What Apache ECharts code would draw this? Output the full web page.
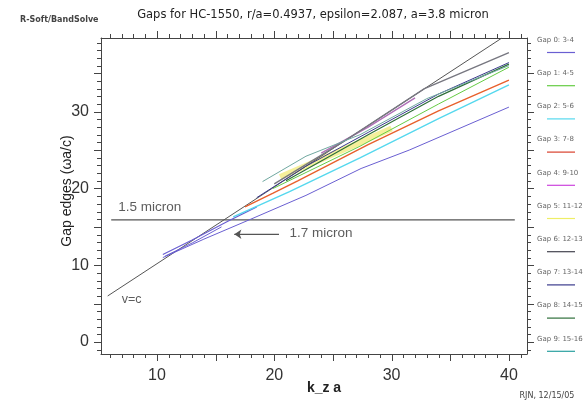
<!DOCTYPE html>
<html><head><meta charset="utf-8">
<script src="https://cdn.jsdelivr.net/npm/echarts@6/dist/echarts.min.js"></script>
<style>html,body{margin:0;padding:0;background:#fff}#c{width:588px;height:406px}</style>
</head><body><div id="c"></div>
<script>
// ---- data ----
const xTickLabels = [10, 20, 30, 40];
const yTickLabels = [0, 10, 20, 30];
const legendNames = ['Gap 0: 3-4','Gap 1: 4-5','Gap 2: 5-6','Gap 3: 7-8','Gap 4: 9-10','Gap 5: 11-12','Gap 6: 12-13','Gap 7: 13-14','Gap 8: 14-15','Gap 9: 15-16'];
const legendColors = ['#6a5fd2','#66cc44','#55d8ee','#d8402c','#cc44dd','#eeee66','#444450','#3a3a8c','#2f6f3a','#2aa0a0'];
const lightLine = [[5.8, 6.0], [39.4, 39.6]];
const line15 = [[6.1, 15.92], [40.5, 15.92]];
const arrow17 = [[20.4, 14.04], [16.6, 14.04]];
const gap0Lower = [[10.5,11.0],[14,13.4],[18,16.0],[22.7,19.1],[27.4,22.6],[31.5,25.0],[40,30.6]];
const gap0Upper = [[10.5,11.4],[13,13.3],[16,15.7],[18.5,17.6]];
const gap0Mid = [[10.7,11.2],[13,12.9],[15.5,15.0]];
const gap1Line = [[19.9,20.0],[27.3,25.5],[34,31.0],[40,35.8]];
const gap2Line = [[16.5,16.3],[21.3,19.6],[27.3,24.0],[34,29.1],[40,33.5]];
const gap3Line = [[17.5,17.6],[19.9,19.4],[22,21.0],[28,25.7],[34,30.1],[40,34.1]];
const gap4Line = [[24,24.6],[28,28.0],[32,31.8]];
const gap5Line = [[20.5,21.5],[24,23.8],[27.3,26.0],[30,27.8]];
const gap6Line = [[20,20.6],[26,26.2],[32.8,33.0],[40,37.7]];
const gap7Line = [[18.5,18.8],[22.7,22.9],[28,27.3],[34,32.3],[40,36.4]];
const gap8Line = [[21,21.0],[28,27.0],[34,32.0],[40,36.2]];
const gap9Line = [[19.0,20.9],[22.7,24.2],[27.3,27.0],[33,31.7],[40,36.0]];
const annotations = [
  {name:'1.5 micron', value:[6.7, 17.6], size:13.5},
  {name:'1.7 micron', value:[21.3, 14.2], size:13.5},
  {name:'v=c', value:[7.0, 5.5], size:12.5}
];

// ---- chart ----
(function () {
const X_MIN = 5.23, X_MAX = 41.54, Y_MIN = -1.56, Y_MAX = 39.6;
const range = (a, b, s) => { const r = []; for (let v = a; v <= b + 1e-9; v += s) r.push(v); return r; };
const xTicks = range(6, 41, 1), yTicks = range(-1, 39, 1);
const AX = '#444';
function xAx(pos, labels) {
  return {type:'value', position:pos, min:X_MIN, max:X_MAX, splitLine:{show:false},
    axisLine:{show:true, onZero:false, lineStyle:{color:AX, width:1}},
    axisTick:{show:false},
    axisLabel:{show:!!labels, customValues:labels||[], fontSize:16, color:'#333', margin:14, fontFamily:'Liberation Sans, Arial'}};
}
function yAx(pos, labels) {
  return {type:'value', position:pos, min:Y_MIN, max:Y_MAX, splitLine:{show:false},
    axisLine:{show:true, onZero:false, lineStyle:{color:AX, width:1}},
    axisTick:{show:false},
    axisLabel:{show:!!labels, customValues:labels||[], fontSize:16, color:'#333', margin:12, fontFamily:'Liberation Sans, Arial'}};
}
function ln(data, color, width, extra) {
  return Object.assign({type:'line', data:data, showSymbol:false, symbol:'none', silent:true,
    lineStyle:{color:color, width:width||1}, xAxisIndex:0, yAxisIndex:0, z:3}, extra||{});
}
const series = [
  ln(lightLine, '#555', 1),
  ln(line15, '#555', 1.2),
  ln(gap5Line, '#f4ee90', 5, {lineStyle:{color:'#f4ee90', width:6, opacity:0.9}, z:2}),
  ln(gap0Lower, legendColors[0], 1),
  ln(gap0Upper, legendColors[0], 1.2),
  ln(gap0Mid, legendColors[0], 1),
  ln(gap2Line, legendColors[2], 1.4),
  ln(gap3Line, '#e8602c', 1.4),
  ln(gap1Line, legendColors[1], 1),
  ln(gap4Line, '#b070b8', 1.4),
  ln(gap6Line, '#777780', 1.4),
  ln(gap7Line, legendColors[7], 1),
  ln(gap8Line, legendColors[8], 1.2),
  ln(gap9Line, '#70a8a0', 1),
  {type:'line', data:arrow17, showSymbol:false, symbol:'none', silent:true, lineStyle:{color:'#555', width:1.2},
    markLine:{silent:true, symbol:['none','arrow'], symbolSize:[7,7], label:{show:false},
      lineStyle:{color:'#555', width:1.2, type:'solid'},
      data:[[{coord:arrow17[0]},{coord:arrow17[1]}]]}},
  {type:'scatter', data:annotations.map(a => ({name:a.name, value:a.value,
      label:{show:true, position:'right', distance:0, formatter:a.name, fontSize:a.size, color:'#333', fontFamily:'Liberation Sans, Arial'}})),
    symbolSize:0, silent:true}
];
const graphic = [
  {type:'text', left:20, top:16, style:{text:'R-Soft/BandSolve', fontSize:8, fontWeight:'bold', fill:'#444', fontFamily:'DejaVu Sans'}},
  {type:'text', x:313, y:15, style:{text:'Gaps for HC-1550, r/a=0.4937, epsilon=2.087, a=3.8 micron', fontSize:11.5, fill:'#222', align:'center', verticalAlign:'middle', fontFamily:'DejaVu Sans'}},
  {type:'text', x:547, y:396, style:{text:'RJN, 12/15/05', fontSize:8, fill:'#444', align:'center', verticalAlign:'middle', fontFamily:'DejaVu Sans'}},
  {type:'text', x:324, y:388, style:{text:'k_z a', fontSize:14, fontWeight:'bold', fill:'#222', align:'center', verticalAlign:'middle', fontFamily:'Liberation Sans, Arial'}},
  {type:'text', x:67, y:191, rotation:Math.PI/2, style:{text:'Gap edges (\u03c9a/c)', fontSize:14, fill:'#222', align:'center', verticalAlign:'middle', fontFamily:'Liberation Sans, Arial'}}
];
legendNames.forEach((n, i) => {
  const ty = 40 + i * 33.2;
  graphic.push({type:'text', x:537, y:ty, style:{text:n, fontSize:7, fill:'#666', verticalAlign:'middle', fontFamily:'DejaVu Sans'}});
  graphic.push({type:'line', shape:{x1:547, y1:ty+12.5, x2:575, y2:ty+12.5}, style:{stroke:legendColors[i], lineWidth:1.2}});
});
const chart = echarts.init(document.getElementById('c'), null, {renderer:'canvas'});
const GL = 101, GR = 61, GT = 38, GB = 52;
chart.setOption({
  animation:false, backgroundColor:'#fff',
  grid:{left:GL, right:GR, top:GT, bottom:GB, containLabel:false},
  xAxis:[ xAx('bottom', xTickLabels), xAx('top', null) ],
  yAxis:[ yAx('left', yTickLabels), yAx('right', null) ],
  series:series
});
// tick marks through the axis scales
const W = 588, H = 406;
const pB = H - GB, pT = GT, pL = GL, pR = W - GR;
xTicks.forEach(v => {
  const px = Math.round(chart.convertToPixel({xAxisIndex:0}, v)) + 0.5;
  const len = (v % 5 === 0) ? 7 : 4;
  graphic.push({type:'line', shape:{x1:px, y1:pB, x2:px, y2:pB+len}, style:{stroke:AX, lineWidth:1}, silent:true});
  graphic.push({type:'line', shape:{x1:px, y1:pT, x2:px, y2:pT-len}, style:{stroke:AX, lineWidth:1}, silent:true});
});
yTicks.forEach(v => {
  const py = Math.round(chart.convertToPixel({yAxisIndex:0}, v)) + 0.5;
  const len = (v % 5 === 0) ? 7 : 4;
  graphic.push({type:'line', shape:{x1:pL, y1:py, x2:pL-len, y2:py}, style:{stroke:AX, lineWidth:1}, silent:true});
  graphic.push({type:'line', shape:{x1:pR, y1:py, x2:pR+len, y2:py}, style:{stroke:AX, lineWidth:1}, silent:true});
});
chart.setOption({graphic:graphic});
})();
</script></body></html>
